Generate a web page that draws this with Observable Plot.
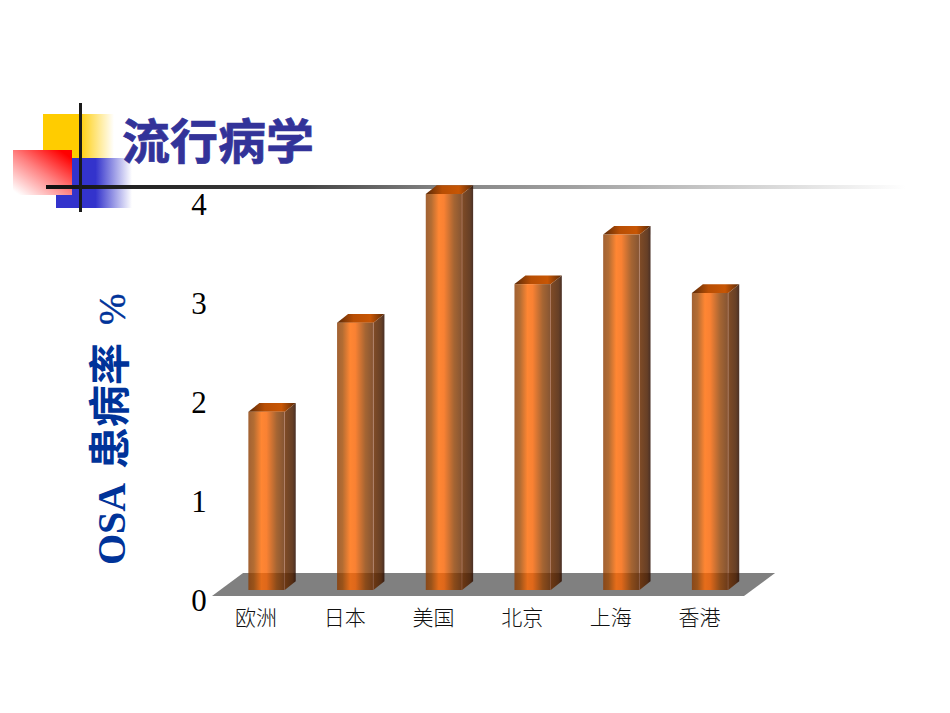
<!DOCTYPE html>
<html lang="zh">
<head>
<meta charset="utf-8">
<script src="https://cdn.jsdelivr.net/npm/d3@7"></script>
<script src="https://cdn.jsdelivr.net/npm/@observablehq/plot@0.6"></script>
<style>
html,body{margin:0;padding:0;background:#fff;width:950px;height:713px;overflow:hidden}
#stage{position:relative;width:950px;height:713px}
#stage>div{position:absolute}
#chart{left:0;top:0}
#chart svg{display:block;background:transparent}
#yellow{left:43px;top:114px;width:71px;height:44px;background:linear-gradient(90deg,#ffcc00 0,#ffcc00 50%,rgba(255,204,0,0) 100%)}
#blue{left:56px;top:158px;width:76px;height:50px;background:linear-gradient(90deg,#3333cc 0,#3333cc 52%,rgba(51,51,204,0) 100%)}
#red{left:13px;top:150px;width:59px;height:45px;background:linear-gradient(215deg,#ff0000 10%,#ff8080 50%,#ffffff 95%)}
#vline{left:79px;top:103px;width:3px;height:109px;background:#1a1a1a}
#hline{left:46px;top:185px;width:860px;height:4px;background:linear-gradient(90deg,#111 0,#444 30%,#808080 45%,#a0a0a0 61%,#fff 100%)}
#title{left:122px;top:108px;font:bold 48px/60px "Noto Sans CJK SC",sans-serif;color:#333399;white-space:nowrap;-webkit-text-stroke:0.7px #333399}
#ylabel{left:86px;top:565px;transform-origin:0 0;transform:rotate(-90deg);white-space:pre;color:#003399;font:bold 40px/42px "Liberation Serif",serif}
#ylabel .cjk{font-family:"Noto Sans CJK SC",sans-serif;font-weight:bold;font-size:42px;margin-left:6px;margin-right:8px}
#ylabel .pct{font-weight:normal;font-size:38px;-webkit-text-stroke:0.4px #003399}
</style>
</head>
<body>
<div id="stage">
  <div id="yellow"></div>
  <div id="blue"></div>
  <div id="red"></div>
  <div id="hline"></div>
  <div id="vline"></div>
  <div id="title">流行病学</div>
  <div id="chart"></div>
  <div id="ylabel">OSA <span class="cjk">患病率</span> <span class="pct">%</span></div>
</div>
<script>
const categories = ["欧洲", "日本", "美国", "北京", "上海", "香港"];
const values = [1.8, 2.7, 4.0, 3.09, 3.59, 3.0];
const yTicks = [0, 1, 2, 3, 4];

// Pseudo-3D depth, in data units
const halfBar = 0.205, depthX = 0.124, depthY = 0.088;
const floorFront = -0.06, floorBack = 0.172;
const floorExtent = [
  {y: floorFront, x1: -0.615, x2: 5.383},
  {y: floorBack, x1: -0.265, x2: 5.733}
];
const bars = categories.map((name, i) => ({i, name, value: values[i]}));
const sides = bars.flatMap(b => [
  {i: b.i, x: b.i + halfBar, y1: 0, y2: b.value},
  {i: b.i, x: b.i + halfBar + depthX, y1: depthY, y2: b.value + depthY}
]);
const tops = bars.flatMap(b => [
  {i: b.i, y: b.value, x1: b.i - halfBar, x2: b.i + halfBar},
  {i: b.i, y: b.value + depthY, x1: b.i - halfBar + depthX, x2: b.i + halfBar + depthX}
]);

const defs = () => {
  const g = d3.create("svg:g");
  const d = g.append("defs");
  const grad = (id, attrs, stops) => {
    const l = d.append("linearGradient").attr("id", id);
    Object.entries(attrs).forEach(([k, v]) => l.attr(k, v));
    stops.forEach(([o, c]) => l.append("stop").attr("offset", o).attr("stop-color", c));
  };
  grad("front", {x1: 0, x2: 1, y1: 0, y2: 0}, [
    [0, "#8a3a00"], [0.15, "#a04800"], [0.36, "#ff6800"], [0.5, "#f86200"], [0.78, "#8e3e00"], [0.97, "#6a2c00"], [1, "#9a5030"]
  ]);
  grad("side", {x1: 0, x2: 1, y1: 0, y2: 0}, [
    [0, "#6a2c00"], [0.7, "#4c1e00"], [1, "#2a0c00"]
  ]);
  grad("top", {x1: 0, x2: 1, y1: 0, y2: 0}, [
    [0, "#5a2a08"], [0.35, "#b84e04"], [0.7, "#c85604"], [1, "#5a2a08"]
  ]);
  return g.node();
};

const plot = Plot.plot({
  width: 950,
  height: 713,
  marginTop: 194,
  marginBottom: 123,
  marginLeft: 222.2,
  marginRight: 195.6,
  x: {type: "linear", domain: [-0.5, 5.5]},
  y: {type: "linear", domain: [0, 4]},
  style: {background: "transparent"},
  marks: [
    defs,
    Plot.areaX(floorExtent, {y: "y", x1: "x1", x2: "x2", fill: "#808080"}),
    Plot.areaY(sides, {x: "x", y1: "y1", y2: "y2", z: "i", fill: "url(#side)", fillOpacity: 0.85, curve: "linear"}),
    Plot.areaX(tops, {y: "y", x1: "x1", x2: "x2", z: "i", fill: "url(#top)", curve: "linear"}),
    Plot.rect(bars, {
      x1: d => d.i - halfBar,
      x2: d => d.i + halfBar,
      y1: 0,
      y2: "value",
      fill: "url(#front)",
      fillOpacity: 0.8
    }),
    Plot.axisY({
      ticks: yTicks, tickSize: 0, tickPadding: 16, label: null, dy: 10.5,
      tickFormat: d => String(d), fontSize: 31, fontFamily: "Liberation Serif, serif", fill: "#000"
    }),
    Plot.axisX({
      ticks: categories.map((_, i) => i), tickSize: 0, tickPadding: 20, label: null, dx: -11,
      tickFormat: i => categories[i], fontSize: 21, fontFamily: "Noto Sans CJK SC, sans-serif", fontWeight: 300, fill: "#111"
    })
  ]
});
document.getElementById("chart").append(plot);
</script>
</body>
</html>
